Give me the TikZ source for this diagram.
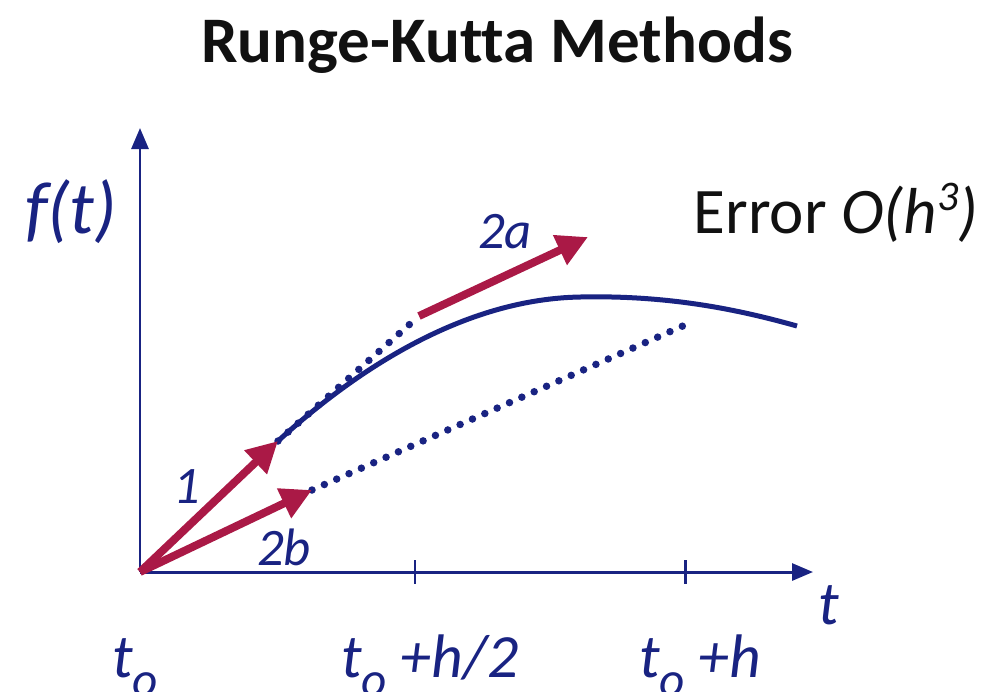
\documentclass[tikz,border=0pt]{standalone}
\usepackage{fontspec}
\setmainfont{Carlito}[Ligatures=NoCommon]
\usetikzlibrary{arrows.meta,positioning,calc}
\definecolor{rkblue}{RGB}{25,35,130}
\definecolor{rkred}{RGB}{170,25,70}
\definecolor{rkink}{RGB}{17,17,17}
\newcommand{\tnought}{t\raisebox{-0.32em}{\fontsize{28}{30}\selectfont o}}

\begin{document}
\begin{tikzpicture}[x=0.02cm,y=-0.02cm,
  axis/.style={rkblue, line width=1.7pt, -{Triangle[length=0.42cm,width=0.34cm]}},
  slope/.style={rkred, line width=4.5pt, -{Triangle[length=0.62cm,width=0.62cm]}},
  guide/.style={rkblue, line width=0.15cm, line cap=round, dash pattern=on 0pt off 0.27cm},
  lab/.style={rkblue, font=\fontsize{35}{40}\selectfont\itshape},
  num/.style={rkblue, font=\fontsize{30}{34}\selectfont\itshape}]
  \useasboundingbox (0,0) rectangle (987,691);

  % axes
  \coordinate (O) at (140,572);
  \coordinate (ytop) at (140,128);
  \coordinate (xend) at (813,572);
  \coordinate (half) at (415,572);
  \coordinate (full) at (685,572);
  \draw[axis] (O) -- (ytop);
  \draw[axis] (O) -- (xend);
  \draw[rkblue, line width=1.7pt] (half) ++(0,-12) -- ++(0,24);
  \draw[rkblue, line width=1.7pt] (full) ++(0,-12) -- ++(0,24);

  % curve
  \coordinate (k1) at (278,441);
  \coordinate (top) at (580,297);
  \coordinate (cend) at (797,326);
  \draw[rkblue, line width=0.1cm] (k1) .. controls (365,362) and (470,299) .. (top)
    .. controls (670,295) and (740,310) .. (cend);

  % slopes
  \coordinate (k2b) at (312,490);
  \coordinate (k2s) at (419,316);
  \coordinate (k2a) at (588,237);
  \coordinate (dend) at (685,325);
  \draw[guide] (k1) -- (k2s);
  \draw[guide] (k2b) -- (dend);
  \draw[slope] (O) -- (k1);
  \draw[slope] (O) -- (k2b);
  \draw[slope] (k2s) -- (k2a);

  % labels
  \node[rkink] (title) at (497,45) {\fontsize{37}{42}\selectfont\bfseries Runge-Kutta Methods};
  \node[lab, font=\fontsize{42}{46}\selectfont\itshape] (flab) at (71,212) {f(t)};
  \node[lab, rkink, font=\fontsize{37}{42}\selectfont] (err) at (836,213)
    {Error \textit{O(h\raisebox{0.35em}{\fontsize{24}{26}\selectfont 3})}};
  \node[lab] (tlab) at (829,605) {t};
  \node[lab, anchor=base west] (t0) at (106,677) {\tnought};
  \node[lab, anchor=base west] (th2) at (335,677) {\tnought\ +h/2};
  \node[lab, anchor=base west] (th) at (633,677) {\tnought\ +h};
  \node[num] (n1) at (187,487) {1};
  \node[num] (n2b) at (284,547) {2b};
  \node[num] (n2a) at (505,232) {2a};
\end{tikzpicture}
\end{document}
